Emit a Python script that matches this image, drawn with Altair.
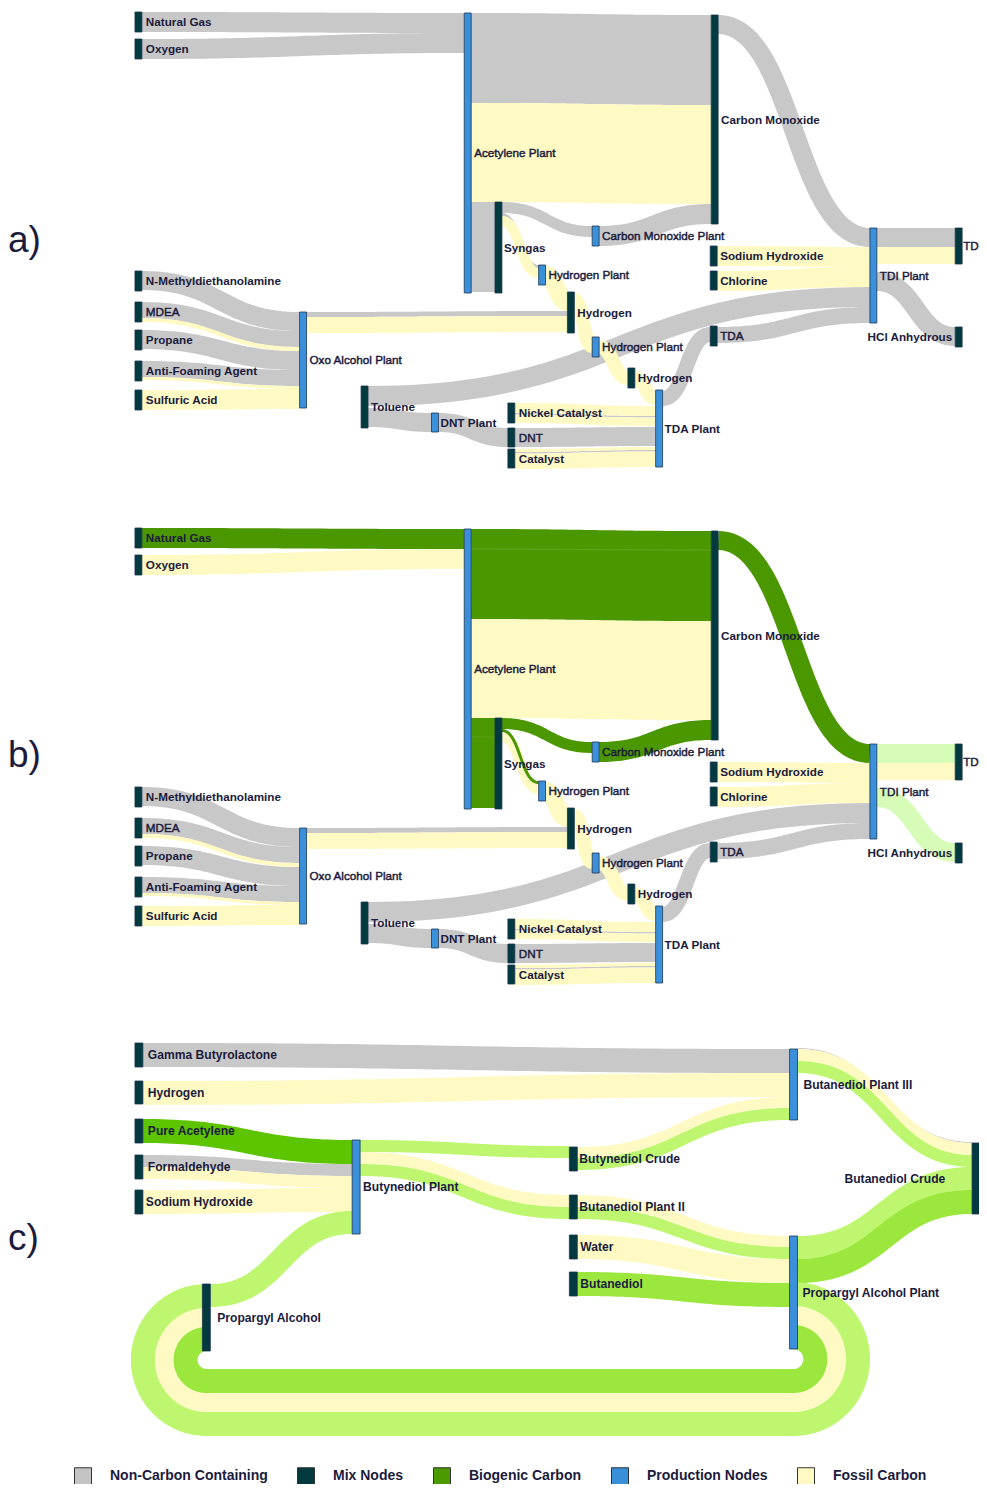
import altair as alt
import numpy as np
import pandas as pd

# ---------------------------------------------------------------- palette
COL = {
    "gray": "#c8c8c8",     # non-carbon containing
    "fossil": "#fffac3",   # fossil carbon
    "bio": "#4b9700",      # biogenic carbon
    "pale": "#d6fcb8",     # pale biogenic (panel b outputs)
    "light": "#bef76f",    # light green (panel c)
    "mid": "#9ce73e",      # mid green (panel c)
    "pure": "#5dc400",     # pure acetylene green (panel c)
}
RANK = {"gray": 0, "fossil": 1, "bio": 2, "pale": 2, "light": 2, "mid": 2, "pure": 2}
NODE_FILL = {"mix": "#023a40", "prod": "#3b90db"}
NODE_EDGE = "#1d3550"
TXT = "#1b1b3d"

# ---------------------------------------------------------------- panel a / b nodes
AB_NODE_ID = ["ng", "o2", "nmdea", "mdea", "propane", "antifoam", "sulfuric", "oxo",
              "toluene", "dntp", "acet", "syngas", "hp1", "h1", "cmp", "hp2", "h2",
              "nickel", "dnt", "catalyst", "tdap", "co", "naoh", "cl", "tda", "tdi",
              "td", "hcl"]
AB_NODE_LABEL = ["Natural Gas", "Oxygen", "N-Methyldiethanolamine", "MDEA", "Propane",
                 "Anti-Foaming Agent", "Sulfuric Acid", "Oxo Alcohol Plant", "Toluene",
                 "DNT Plant", "Acetylene Plant", "Syngas", "Hydrogen Plant", "Hydrogen",
                 "Carbon Monoxide Plant", "Hydrogen Plant", "Hydrogen", "Nickel Catalyst",
                 "DNT", "Catalyst", "TDA Plant", "Carbon Monoxide", "Sodium Hydroxide",
                 "Chlorine", "TDA", "TDI Plant", "TD", "HCl Anhydrous"]
AB_NODE_X = [136, 136, 136, 136, 136, 136, 136, 302, 364, 435, 468, 499, 543, 572, 597,
             597, 633, 512, 512, 512, 661, 717, 716, 716, 716, 877, 963, 963]
AB_NODE_TOP = [12, 39, 271, 302, 330, 361, 390, 312, 386, 413, 13, 202, 265, 292, 226,
               337, 368, 403, 428, 449, 390, 15, 246, 271, 326, 228, 228, 327]
AB_NODE_BOTTOM = [32, 59, 291, 322, 350, 381, 410, 408, 428, 432, 293, 293, 285, 333, 246,
                  357, 388, 423, 447, 468, 467, 224, 266, 290, 346, 323, 264, 347]
AB_NODE_KIND = ["mix", "mix", "mix", "mix", "mix", "mix", "mix", "prod", "mix", "prod",
                "prod", "mix", "prod", "mix", "prod", "prod", "mix", "mix", "mix", "mix",
                "prod", "mix", "mix", "mix", "mix", "prod", "mix", "mix"]
AB_LABEL_X = [147, 147, 147, 147, 147, 147, 147, 312, 374, 444, 478, 508, 553, 582, 607,
              607, 643, 523, 523, 523, 670, 727, 726, 726, 726, 887, 971, 960]
AB_LABEL_ALIGN = ["left"] * 27 + ["right"]
AB_LABEL_STYLE = ["bold", "bold", "bold", "tight", "bold", "bold", "bold", "tight", "bold",
                  "bold", "tight", "bold", "tight", "bold", "tight", "tight", "bold", "bold",
                  "tight", "bold", "bold", "bold", "bold", "bold", "tight", "tight", "tight",
                  "bold"]
B_SHIFT = 516

# ---------------------------------------------------------------- panel a / b links
AB_LINK_SRC = ["ng", "o2", "nmdea", "mdea", "mdea", "propane", "antifoam", "antifoam",
               "sulfuric", "oxo", "oxo", "acet", "acet", "acet", "syngas", "syngas",
               "syngas", "hp1", "h1", "hp2", "h2", "nickel", "nickel", "nickel", "dnt",
               "catalyst", "catalyst", "catalyst", "toluene", "toluene", "dntp", "tdap",
               "tda", "co", "naoh", "cl", "tdi", "tdi", "tdi", "cmp"]
AB_LINK_TGT = ["acet", "acet", "oxo", "oxo", "oxo", "oxo", "oxo", "oxo", "oxo", "h1", "h1",
               "co", "co", "syngas", "cmp", "hp1", "hp1", "h1", "hp2", "h2", "tdap", "tdap",
               "tdap", "tdap", "tdap", "tdap", "tdap", "tdap", "tdi", "dntp", "dnt", "tda",
               "tdi", "tdi", "tdi", "tdi", "td", "td", "hcl", "co"]
AB_LINK_W = [20, 20, 19, 16, 4, 19, 16, 3, 20, 5, 16, 90, 99, 90, 11, 3, 10, 18, 14, 14,
             14, 10, 1.5, 8.5, 19, 3, 1.5, 15.5, 20, 19, 19, 15, 16, 19, 20, 20, 19, 17,
             19, 20]
AB_LINK_SY = [12, 39, 271, 302, 318, 330, 361, 377, 390, 312, 317, 13, 103, 202, 202, 213,
              216, 266, 293, 340, 371, 403, 413, 414.5, 428, 449, 452, 453.5, 386, 408,
              413, 391, 327, 15, 246, 271, 228, 247, 272, 226]
AB_LINK_TY = [13, 33, 312, 331, 347, 351, 370, 386, 389, 311, 316, 15, 105, 202, 226, 265,
              268, 293, 339, 371, 391, 406, 416, 417.5, 427, 447, 450, 451.5, 287, 413,
              428, 327, 307, 228, 247, 267, 228, 247, 327, 204]
A_LINK_COL = ["gray", "gray", "gray", "gray", "fossil", "gray", "gray", "fossil", "fossil",
              "gray", "fossil", "gray", "fossil", "gray", "gray", "gray", "fossil", "fossil",
              "fossil", "fossil", "fossil", "fossil", "gray", "fossil", "gray", "fossil",
              "gray", "fossil", "gray", "gray", "gray", "gray", "gray", "gray", "fossil",
              "fossil", "gray", "fossil", "gray", "gray"]
B_LINK_COL = ["bio", "fossil", "gray", "gray", "fossil", "gray", "gray", "fossil", "fossil",
              "gray", "fossil", "bio", "fossil", "bio", "bio", "bio", "fossil", "fossil",
              "fossil", "fossil", "fossil", "fossil", "gray", "fossil", "gray", "fossil",
              "gray", "fossil", "gray", "gray", "gray", "gray", "gray", "bio", "fossil",
              "fossil", "pale", "fossil", "pale", "bio"]
# faint seams visible inside the merged biogenic blocks of panel b (src y, tgt y)
B_SEAM_SRC = ["acet", "acet"]
B_SEAM_TGT = ["co", "syngas"]
B_SEAM_SY = [33, 221]
B_SEAM_TY = [34, 221]

# ---------------------------------------------------------------- panel c nodes
C_NODE_ID = ["gbl", "h2c", "pac", "form", "naohc", "pa", "bp", "bcr", "bdp2", "water",
             "bdo", "bdp3", "pap", "bdc"]
C_NODE_LABEL = ["Gamma Butyrolactone", "Hydrogen", "Pure Acetylene", "Formaldehyde",
                "Sodium Hydroxide", "Propargyl Alcohol", "Butynediol Plant",
                "Butynediol Crude", "Butanediol Plant II", "Water", "Butanediol",
                "Butanediol Plant III", "Propargyl Alcohol Plant", "Butanediol Crude"]
C_NODE_X = [136, 136, 136, 136, 136, 204, 355, 574, 574, 574, 574, 796, 796, 980]
C_NODE_TOP = [1043, 1081, 1119, 1155, 1190, 1284, 1140, 1147, 1195, 1235, 1272, 1049,
              1236, 1143]
C_NODE_BOTTOM = [1067, 1104, 1143, 1179, 1214, 1351, 1234, 1171, 1219, 1259, 1296, 1120,
                 1349, 1214]
C_NODE_KIND = ["mix", "mix", "mix", "mix", "mix", "mix", "prod", "mix", "mix", "mix",
               "mix", "prod", "prod", "mix"]
C_LABEL_X = [149, 149, 149, 149, 147, 219, 366, 584, 584, 585, 585, 810, 809, 953]
C_LABEL_ALIGN = ["left"] * 13 + ["right"]

# ---------------------------------------------------------------- panel c links
C_LINK_SRC = ["bdp3", "gbl", "h2c", "bcr", "bcr", "pac", "form", "form", "naohc", "pa",
              "bp", "bp", "bp", "bdp2", "bdp2", "water", "bdo", "pap", "pap", "bdp3",
              "bdp3"]
C_LINK_TGT = ["bdc", "bdp3", "bdp3", "bdp3", "bdp3", "bp", "bp", "bp", "bp", "bp", "bcr",
              "bdp2", "bdp2", "pap", "pap", "pap", "pap", "bdc", "bdc", "bdc", "bdc"]
C_LINK_W = [1, 24, 24, 11, 12, 24, 12, 12, 24, 23, 12, 12, 12, 11, 12, 24, 24, 23, 24,
            12, 12]
C_LINK_SY = [1048, 1043, 1081, 1147, 1158, 1119, 1155, 1167, 1190, 1284, 1140, 1152, 1164,
             1195, 1207, 1235, 1272, 1236, 1259, 1049, 1061]
C_LINK_TY = [1142, 1049, 1073, 1097, 1108, 1140, 1164, 1176, 1188, 1211, 1146, 1195, 1207,
             1236, 1247, 1259, 1283, 1167, 1190, 1143, 1155]
C_LINK_COL = ["gray", "gray", "fossil", "fossil", "light", "pure", "gray", "fossil",
              "fossil", "light", "light", "fossil", "light", "fossil", "light", "fossil",
              "mid", "light", "mid", "fossil", "light"]

# recycle loops (Propargyl Alcohol Plant -> Propargyl Alcohol)
LOOP_SRC = ["pap", "pap", "pap"]
LOOP_TGT = ["pa", "pa", "pa"]
LOOP_W = [24, 19, 24]
LOOP_SY = [1282, 1306, 1325]
LOOP_TY = [1284, 1308, 1327]
LOOP_BOTTOM = [1412, 1393, 1369]
LOOP_COL = ["light", "fossil", "mid"]

PANEL_TAGS = ["a)", "b)", "c)"]
PANEL_TAG_Y = [241, 756, 1239]

LEGEND_CATS = ["Non-Carbon Containing", "Mix Nodes", "Biogenic Carbon",
               "Production Nodes", "Fossil Carbon"]
LEGEND_COLS = ["#c4c4c4", "#023a40", "#4b9a00", "#3a8fd9", "#fffac4"]

# ---------------------------------------------------------------- build tables
node_rows, label_rows = [], []
node_pos = {}


def add_nodes(prefix, ids, labels, xs, tops, bots, kinds, lx, aligns, styles, width,
              shift, fsize):
    for i, nid in enumerate(ids):
        key = prefix + nid
        x0, y0, y1 = xs[i], tops[i] + shift, bots[i] + shift
        node_pos[key] = (x0, x0 + width)
        node_rows.append(dict(x0=x0, x1=x0 + width, y0=y0, y1=y1,
                              fill=NODE_FILL[kinds[i]]))
        label_rows.append(dict(text=labels[i], x=lx[i], y=(y0 + y1) / 2,
                               align=aligns[i], style=styles[i], fs=fsize))


add_nodes("a_", AB_NODE_ID, AB_NODE_LABEL, AB_NODE_X, AB_NODE_TOP, AB_NODE_BOTTOM,
          AB_NODE_KIND, AB_LABEL_X, AB_LABEL_ALIGN, AB_LABEL_STYLE, 7, 0, 11.7)
add_nodes("b_", AB_NODE_ID, AB_NODE_LABEL, AB_NODE_X, AB_NODE_TOP, AB_NODE_BOTTOM,
          AB_NODE_KIND, AB_LABEL_X, AB_LABEL_ALIGN, AB_LABEL_STYLE, 7, B_SHIFT, 11.7)
add_nodes("c_", C_NODE_ID, C_NODE_LABEL, C_NODE_X, C_NODE_TOP, C_NODE_BOTTOM,
          C_NODE_KIND, C_LABEL_X, C_LABEL_ALIGN, ["bold"] * len(C_NODE_ID), 8, 0, 12.1)

link_rows = []
T = np.linspace(0.0, 1.0, 49)


def add_link(lid, xs, ys, xt, yt, w, col, rank=None, colour=None):
    xm = (xs + xt) / 2.0
    x = (1 - T) ** 3 * xs + 3 * (1 - T) ** 2 * T * xm + 3 * (1 - T) * T ** 2 * xm + T ** 3 * xt
    y = ((1 - T) ** 3 + 3 * (1 - T) ** 2 * T) * ys + (3 * (1 - T) * T ** 2 + T ** 3) * yt
    for k in range(len(T)):
        link_rows.append(dict(lid=lid, i=k, x=float(x[k]), y=float(y[k]), w=w,
                              col=colour or COL[col],
                              rank=RANK[col] if rank is None else rank))


def add_sankey_links(prefix, srcs, tgts, ws, sys_, tys, cols, shift):
    for j in range(len(srcs)):
        s, t = prefix + srcs[j], prefix + tgts[j]
        w = ws[j]
        add_link(f"{prefix}{j}", node_pos[s][1], sys_[j] + shift + w / 2,
                 node_pos[t][0], tys[j] + shift + w / 2, w, cols[j])


add_sankey_links("a_", AB_LINK_SRC, AB_LINK_TGT, AB_LINK_W, AB_LINK_SY, AB_LINK_TY,
                 A_LINK_COL, 0)
add_sankey_links("b_", AB_LINK_SRC, AB_LINK_TGT, AB_LINK_W, AB_LINK_SY, AB_LINK_TY,
                 B_LINK_COL, B_SHIFT)
add_sankey_links("c_", C_LINK_SRC, C_LINK_TGT, C_LINK_W, C_LINK_SY, C_LINK_TY,
                 C_LINK_COL, 0)
for j in range(len(B_SEAM_SRC)):
    add_link(f"seam{j}", node_pos["b_" + B_SEAM_SRC[j]][1], B_SEAM_SY[j] + B_SHIFT,
             node_pos["b_" + B_SEAM_TGT[j]][0], B_SEAM_TY[j] + B_SHIFT, 0.8, "bio",
             rank=3, colour="#6aa832")

# loops: right half-circle down, straight back, left half-circle up
for j in range(len(LOOP_SRC)):
    w = LOOP_W[j]
    ys = LOOP_SY[j] + w / 2
    yt = LOOP_TY[j] + w / 2
    yb = LOOP_BOTTOM[j] + w / 2
    cxr = node_pos["c_" + LOOP_SRC[j]][1] - 4
    cxl = node_pos["c_" + LOOP_TGT[j]][0] + 4
    th1 = np.linspace(-np.pi / 2, np.pi / 2, 60)
    r1, cy1 = (yb - ys) / 2, (yb + ys) / 2
    th2 = np.linspace(np.pi / 2, 3 * np.pi / 2, 60)
    r2, cy2 = (yb - yt) / 2, (yb + yt) / 2
    xx = np.concatenate([cxr + r1 * np.cos(th1), cxl + r2 * np.cos(th2)])
    yy = np.concatenate([cy1 + r1 * np.sin(th1), cy2 + r2 * np.sin(th2)])
    for k in range(len(xx)):
        link_rows.append(dict(lid=f"loop{j}", i=k, x=float(xx[k]), y=float(yy[k]), w=w,
                              col=COL[LOOP_COL[j]], rank=RANK[LOOP_COL[j]]))

links = pd.DataFrame(link_rows)
nodes = pd.DataFrame(node_rows)
labels = pd.DataFrame(label_rows)
tags = pd.DataFrame(dict(text=PANEL_TAGS, x=[8] * 3, y=PANEL_TAG_Y))
legend_df = pd.DataFrame(dict(cat=LEGEND_CATS))

# ---------------------------------------------------------------- chart
# plot area spans page x 8..979 (mapped from the reference's 8..987) and page y 8..1484
W, H = 971, 1476
XS = alt.Scale(domain=[8, 987], nice=False, zero=False)
YS = alt.Scale(domain=[8, 8 + H], nice=False, zero=False, reverse=True)


def link_layer(rank):
    return alt.Chart(links[links["rank"] == rank]).mark_line(
        strokeCap="butt", strokeJoin="round", interpolate="linear"
    ).encode(
        x=alt.X("x:Q", scale=XS, axis=None),
        y=alt.Y("y:Q", scale=YS, axis=None),
        order="i:Q",
        detail="lid:N",
        stroke=alt.Stroke("col:N", scale=None),
        strokeWidth=alt.StrokeWidth("w:Q", scale=None),
    )


node_layer = alt.Chart(nodes).mark_rect(stroke=NODE_EDGE, strokeWidth=0.8).encode(
    x=alt.X("x0:Q", scale=XS, axis=None), x2="x1:Q",
    y=alt.Y("y0:Q", scale=YS, axis=None), y2="y1:Q",
    fill=alt.Fill("fill:N", scale=None),
)


def text_layer(df, align, weight, stroke_w):
    kw = dict(font="Liberation Sans", fontWeight=weight, align=align, baseline="middle",
              color=TXT)
    if stroke_w > 0:
        kw.update(stroke=TXT, strokeWidth=stroke_w)
    return alt.Chart(df).mark_text(**kw).encode(
        x=alt.X("x:Q", scale=XS, axis=None),
        y=alt.Y("y:Q", scale=YS, axis=None),
        text="text:N",
        size=alt.Size("fs:Q", scale=None),
    )


bold_left = text_layer(labels[(labels["style"] == "bold") & (labels["align"] == "left")],
                       "left", "bold", 0)
bold_right = text_layer(labels[(labels["style"] == "bold") & (labels["align"] == "right")],
                        "right", "bold", 0)
tight_left = text_layer(labels[labels["style"] == "tight"], "left", "normal", 0.45)

tag_layer = alt.Chart(tags).mark_text(
    font="Liberation Sans", fontSize=37, align="left", baseline="middle", color=TXT
).encode(x=alt.X("x:Q", scale=XS, axis=None), y=alt.Y("y:Q", scale=YS, axis=None),
         text="text:N")

legend_layer = alt.Chart(legend_df).mark_point(
    shape="square", filled=True, opacity=0, stroke="#333333", strokeWidth=1
).encode(
    x=alt.value(0), y=alt.value(0),
    color=alt.Color(
        "cat:N",
        scale=alt.Scale(domain=LEGEND_CATS, range=LEGEND_COLS),
        legend=alt.Legend(
            title=None, orient="none", legendX=66, legendY=1459, direction="horizontal",
            columns=5, symbolType="square", symbolSize=289, symbolStrokeColor="#333333",
            symbolStrokeWidth=1, symbolOpacity=1, labelFont="Liberation Sans",
            labelFontSize=14, labelFontWeight="bold", labelColor=TXT, labelOffset=18,
            columnPadding=27, padding=0, labelLimit=400,
        ),
    ),
)

chart = alt.layer(
    link_layer(0), link_layer(1), link_layer(2), link_layer(3), node_layer,
    tight_left, bold_left, bold_right, tag_layer, legend_layer,
).properties(
    width=W, height=H, autosize=alt.AutoSizeParams(type="none"), padding=0,
    background="white",
).configure_view(strokeWidth=0)

chart.save("out.html", embed_options={"renderer": "svg", "actions": False})
